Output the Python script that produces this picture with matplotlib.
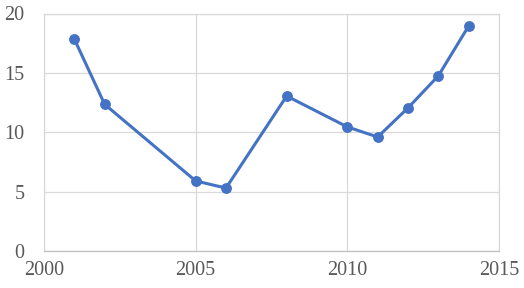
import matplotlib
matplotlib.use("Agg")
import matplotlib.pyplot as plt

# values
years = [2001, 2002, 2005, 2006, 2008, 2010, 2011, 2012, 2013, 2014]
values = [17.85, 12.35, 5.9, 5.3, 13.05, 10.45, 9.6, 12.05, 14.75, 18.95]
x_ticks = [2000, 2005, 2010, 2015]
y_ticks = [0, 5, 10, 15, 20]

line_color = '#4472C4'
grid_color = '#D9D9D9'
label_color = '#595959'

plt.rcParams['font.family'] = ['Liberation Serif', 'DejaVu Serif']

fig = plt.figure(figsize=(5.24, 2.88), dpi=100)
# axes box in pixels: left 44, right 499, top 13.5, bottom 251
ax = fig.add_axes([44 / 524, (288 - 251) / 288, (499 - 44) / 524, (251 - 13.5) / 288])

ax.plot(years, values, color=line_color, linewidth=2.2, marker='o',
        markersize=6.8, zorder=3)

ax.set_xlim(2000, 2015)
ax.set_ylim(0, 20)
ax.set_xticks(x_ticks)
ax.set_yticks(y_ticks)
ax.grid(True, color=grid_color, linewidth=0.9)
ax.set_axisbelow(True)
for spine in ax.spines.values():
    spine.set_color(grid_color)
    spine.set_linewidth(0.9)
ax.spines['bottom'].set_color('#BFBFBF')
ax.tick_params(length=0, labelsize=14.5, colors=label_color)
ax.tick_params(axis='y', pad=14)
ax.tick_params(axis='x', pad=7)

fig.savefig('out.png', dpi=100)
